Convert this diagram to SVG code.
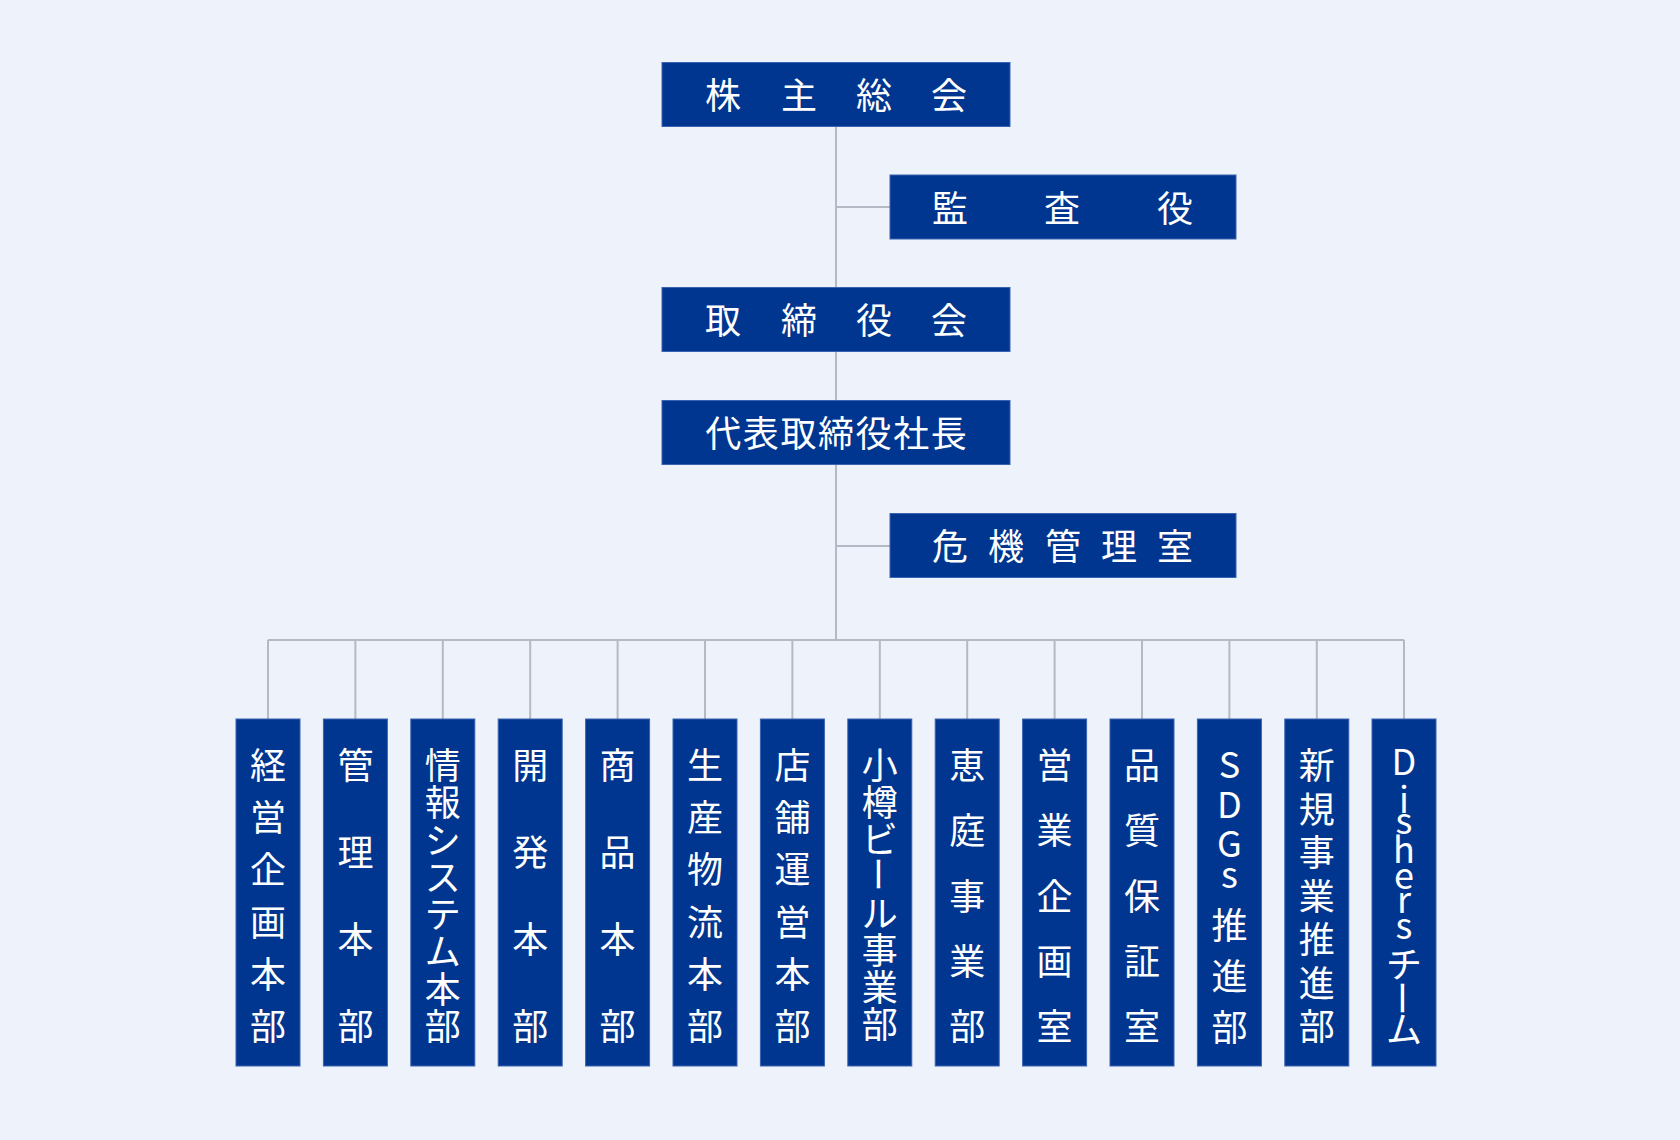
<svg xmlns="http://www.w3.org/2000/svg" width="1680" height="1140" viewBox="0 0 1680 1140">
<style>
.bg{fill:#eef3fb}
.box{fill:#00368f;stroke:#3a63b2;stroke-width:1}
.ln{stroke:#b3b9c5;stroke-width:2;fill:none}
.t{font-family:"Noto Sans CJK JP","Noto Sans",sans-serif;font-size:36px;fill:#ffffff;text-anchor:middle;dominant-baseline:central}
</style>
<rect class="bg" x="0" y="0" width="1680" height="1140"/>
<g id="connectors">
<path class="ln" d="M836 126V640M836 207H890M836 546H890M268 640H1404"/>
<path class="ln" d="M268 640V719M355.4 640V719M442.8 640V719M530.2 640V719M617.6 640V719M705 640V719M792.4 640V719M879.8 640V719M967.2 640V719M1054.6 640V719M1142 640V719M1229.4 640V719M1316.8 640V719M1404 640V719"/>
</g>
<g id="n-kabunushi"><rect class="box" x="662" y="62.5" width="348" height="64"/><text class="t" x="723 799 874 949" y="93">株主総会</text></g>
<g id="n-kansayaku"><rect class="box" x="890" y="175" width="346" height="64"/><text class="t" x="950 1062 1175" y="205.5">監査役</text></g>
<g id="n-torishimariyakukai"><rect class="box" x="662" y="287.5" width="348" height="64"/><text class="t" x="723 799 874 949" y="318">取締役会</text></g>
<g id="n-shacho"><rect class="box" x="662" y="400.5" width="348" height="64"/><text class="t" x="723.2 760.8 798.4 836 873.6 911.2 948.8" y="431">代表取締役社長</text></g>
<g id="n-kiki"><rect class="box" x="890" y="513.5" width="346" height="64"/><text class="t" x="950 1006 1063 1119 1175" y="544">危機管理室</text></g>
<g id="d1"><rect class="box" x="236" y="719" width="64" height="347"/><text class="t" x="268 268 268 268 268 268" y="763 815.2 867.4 919.6 971.8 1024">経営企画本部</text></g>
<g id="d2"><rect class="box" x="323.4" y="719" width="64" height="347"/><text class="t" x="355.4 355.4 355.4 355.4" y="763 850 937 1024">管理本部</text></g>
<g id="d3"><rect class="box" x="410.8" y="719" width="64" height="347"/><text class="t" x="442.8 442.8 442.8 442.8 442.8 442.8 442.8 442.8" y="763 800.3 837.6 874.9 912.1 949.4 986.7 1024">情報システム本部</text></g>
<g id="d4"><rect class="box" x="498.2" y="719" width="64" height="347"/><text class="t" x="530.2 530.2 530.2 530.2" y="763 850 937 1024">開発本部</text></g>
<g id="d5"><rect class="box" x="585.6" y="719" width="64" height="347"/><text class="t" x="617.6 617.6 617.6 617.6" y="763 850 937 1024">商品本部</text></g>
<g id="d6"><rect class="box" x="673" y="719" width="64" height="347"/><text class="t" x="705 705 705 705 705 705" y="763 815.2 867.4 919.6 971.8 1024">生産物流本部</text></g>
<g id="d7"><rect class="box" x="760.4" y="719" width="64" height="347"/><text class="t" x="792.4 792.4 792.4 792.4 792.4 792.4" y="763 815.2 867.4 919.6 971.8 1024">店舗運営本部</text></g>
<g id="d8"><rect class="box" x="847.8" y="719" width="64" height="347"/><text class="t" x="879.8 879.8 879.8" y="763 800 837">小樽ビ</text><text class="t" x="879.8" y="874" transform="rotate(90 879.8 874)">ー</text><text class="t" x="879.8 879.8 879.8 879.8" y="911 948 985 1022">ル事業部</text></g>
<g id="d9"><rect class="box" x="935.2" y="719" width="64" height="347"/><text class="t" x="967.2 967.2 967.2 967.2 967.2" y="763 828.25 893.5 958.75 1024">恵庭事業部</text></g>
<g id="d10"><rect class="box" x="1022.6" y="719" width="64" height="347"/><text class="t" x="1054.6 1054.6 1054.6 1054.6 1054.6" y="763 828.25 893.5 958.75 1024">営業企画室</text></g>
<g id="d11"><rect class="box" x="1110" y="719" width="64" height="347"/><text class="t" x="1142 1142 1142 1142 1142" y="763 828.25 893.5 958.75 1024">品質保証室</text></g>
<g id="d12"><rect class="box" x="1197.4" y="719" width="64" height="347"/><text class="t" x="1229.4 1229.4 1229.4 1229.4 1229.4 1229.4 1229.4" y="762 802 841 872 923 974 1025">SDGs推進部</text></g>
<g id="d13"><rect class="box" x="1284.8" y="719" width="64" height="347"/><text class="t" x="1316.8 1316.8 1316.8 1316.8 1316.8 1316.8 1316.8" y="763 806.5 850 893.5 937 980.5 1024">新規事業推進部</text></g>
<g id="d14"><rect class="box" x="1372" y="719" width="64" height="347"/><text class="t" x="1404 1404 1404 1404 1404 1404 1404 1404" y="759 797 818 847 873 897 923 962">Dishersチ</text><text class="t" x="1404" y="998" transform="rotate(90 1404 998)">ー</text><text class="t" x="1404" y="1027">ム</text></g>
</svg>
